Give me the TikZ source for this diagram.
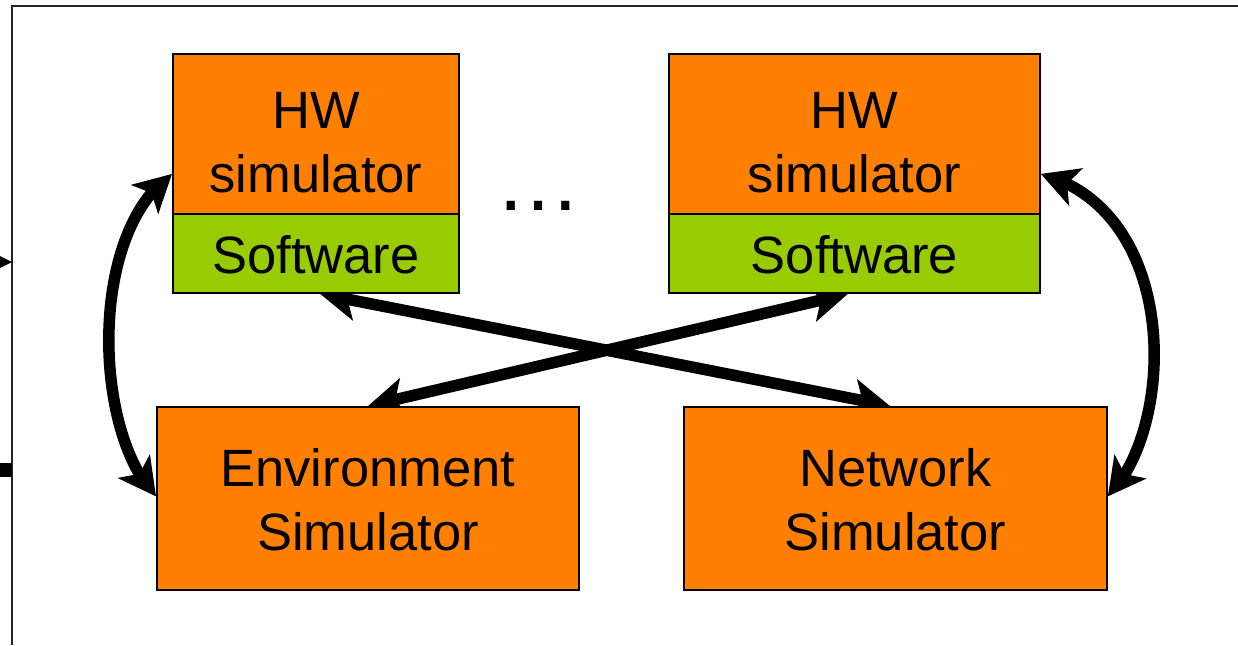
\documentclass[tikz,border=0pt]{standalone}
\usepackage{fontspec}
\setmainfont{Liberation Sans}
\usetikzlibrary{arrows.meta,bending,calc}
\definecolor{simorange}{HTML}{FF8000}
\definecolor{swgreen}{HTML}{99CC00}
\pgfdeclarelayer{bg}
\pgfsetlayers{bg,main}
\begin{document}
\begin{tikzpicture}[x=1pt,y=-1pt,
  simbox/.style={draw=black, line width=1.8pt, fill=simorange, inner sep=0pt, anchor=north west},
  swbox/.style={simbox, fill=swgreen},
  lbl/.style={font=\fontsize{52.5}{64}\selectfont, anchor=base, inner sep=0pt},
  link/.style={line width=11.5pt, {Stealth[length=37pt,width=39pt,inset=9pt]}-{Stealth[length=37pt,width=39pt,inset=9pt]}}
]
\useasboundingbox (0,0) rectangle (1238,645);
\begin{pgfonlayer}{bg}
\fill[white] (0,0) rectangle (1238,645);
\end{pgfonlayer}

% outer frame and the stubs entering it from the left
\draw[line width=2pt, black!85] (12,645) -- (12,5.5) -- (1238,5.5);
\fill (0,256) -- (12,262) -- (0,268) -- cycle;
\fill (0,463) rectangle (12,477);

% simulator blocks
\node[simbox, minimum width=286pt, minimum height=160pt] (hwL) at (172,53) {};
\node[swbox,  minimum width=286pt, minimum height=79pt]  (swL) at (172,213) {};
\node[simbox, minimum width=371pt, minimum height=160pt] (hwR) at (668,53) {};
\node[swbox,  minimum width=371pt, minimum height=79pt]  (swR) at (668,213) {};
\node[simbox, minimum width=422pt, minimum height=183pt] (env) at (156,406) {};
\node[simbox, minimum width=423pt, minimum height=183pt] (net) at (683,406) {};

% labels
\node[lbl] (hwLa) at ([yshift=-75pt]hwL.north) {HW};
\node[lbl] (hwLb) at ([yshift=-139pt]hwL.north) {simulator};
\node[lbl] (swLa) at ([yshift=-60pt]swL.north) {Software};
\node[lbl] (hwRa) at ([yshift=-75pt]hwR.north) {HW};
\node[lbl] (hwRb) at ([yshift=-139pt]hwR.north) {simulator};
\node[lbl] (swRa) at ([yshift=-60pt]swR.north) {Software};
\node[lbl] (enva) at ([yshift=-80pt]env.north) {Environment};
\node[lbl] (envb) at ([yshift=-144pt]env.north) {Simulator};
\node[lbl] (neta) at ([yshift=-80pt]net.north) {Network};
\node[lbl] (netb) at ([yshift=-144pt]net.north) {Simulator};
\node[font=\fontsize{86}{86}\selectfont, anchor=base, inner sep=0pt] (dots) at (538,210.5) {…};

% connector end points
\coordinate (swLtip) at ([xshift=148pt]swL.south west);
\coordinate (swRtip) at ([xshift=180pt]swR.south west);
\coordinate (envtip) at ([xshift=212pt]env.north west);
\coordinate (nettip) at ([xshift=207pt]net.north west);
\coordinate (hwLtip) at ([yshift=-40pt]hwL.west);
\coordinate (hwRtip) at ([yshift=-40pt]hwR.east);
\coordinate (envside) at ([yshift=2pt]env.west);
\coordinate (netside) at ([yshift=2pt]net.east);

% connectors, beneath the blocks
\begin{pgfonlayer}{bg}
\draw[link] (swLtip) -- (nettip);
\draw[link] (swRtip) -- (envtip);
\draw[link] (hwLtip) .. controls +(-84,59) and +(-63,-65) .. (envside);
\draw[link] (hwRtip) .. controls +(139,37) and +(69,-70) .. (netside);
\end{pgfonlayer}
\end{tikzpicture}
\end{document}
